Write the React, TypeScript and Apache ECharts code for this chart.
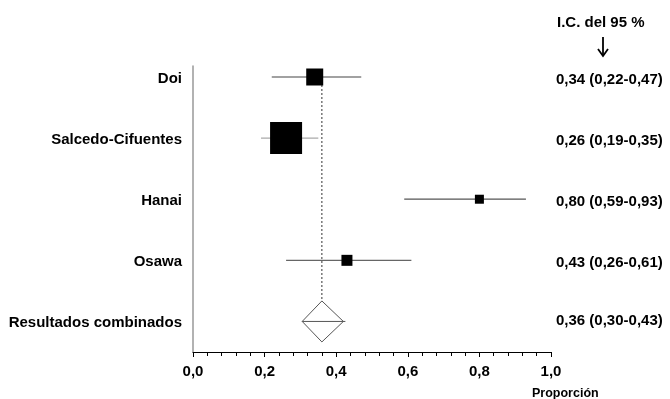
import React, { useEffect, useRef } from "react";
import * as echarts from "echarts";

const studies = ["Doi", "Salcedo-Cifuentes", "Hanai", "Osawa"];
const estimates = [0.34, 0.26, 0.8, 0.43];
const lowers = [0.22, 0.19, 0.59, 0.26];
const uppers = [0.47, 0.35, 0.93, 0.61];
const boxSizes = [17, 32, 9, 11];
const ciColors = ["#444444", "#aaaaaa", "#555555", "#666666"];
const rowPos = [5, 4, 3, 2];

const pooledLabel = "Resultados combinados";
const pooledEst = 0.36;
const pooledLo = 0.305;
const pooledHi = 0.42;
const pooledText = "0,36 (0,30-0,43)";
const pooledRow = 1;

const fmt = (v: number) => v.toFixed(2).replace(".", ",");

const LEFT_FONT = "bold 15px 'Liberation Sans', Arial, sans-serif";
const RIGHT_FONT = "bold 15px 'Liberation Sans', Arial, sans-serif";

export default function App() {
  const ref = useRef<HTMLDivElement>(null);
  useEffect(() => {
    if (!ref.current) return;
    const chart = echarts.init(ref.current, null, { renderer: "svg" });

    const studyData = studies.map((s, i) => [
      estimates[i],
      rowPos[i],
      lowers[i],
      uppers[i],
      boxSizes[i],
      i,
    ]);

    chart.setOption({
      animation: false,
      grid: { left: 193, right: 119, top: 66, bottom: 47 },
      xAxis: {
        type: "value",
        min: 0,
        max: 1,
        interval: 0.2,
        splitLine: { show: false },
        axisLine: { show: true, onZero: false, lineStyle: { color: "#000", width: 1 } },
        axisTick: { show: true, length: 5, lineStyle: { color: "#000" } },
        minorTick: { show: true, splitNumber: 5, length: 4, lineStyle: { color: "#000" } },
        axisLabel: {
          margin: 11,
          color: "#000",
          fontFamily: "'Liberation Sans', Arial, sans-serif",
          fontWeight: "bold",
          fontSize: 15,
          formatter: (v: number) => v.toFixed(1).replace(".", ","),
        },
      },
      yAxis: {
        type: "value",
        min: 0.5,
        max: 5.18,
        splitLine: { show: false },
        axisLine: { show: true, onZero: false, lineStyle: { color: "#999", width: 1.5 } },
        axisTick: { show: false },
        axisLabel: { show: false },
      },
      series: [
        {
          type: "custom",
          z: 1,
          data: [[pooledEst, pooledRow, rowPos[0]]],
          renderItem: (params: any, api: any) => {
            const a = api.coord([api.value(0), api.value(2)]);
            const b = api.coord([api.value(0), api.value(1)]);
            return {
              type: "line",
              shape: { x1: a[0], y1: a[1], x2: b[0], y2: b[1] - 20 },
              style: { stroke: "#333", lineWidth: 1, lineDash: [2, 2] },
            };
          },
        },
        {
          type: "custom",
          z: 2,
          data: studyData,
          renderItem: (params: any, api: any) => {
            const y = api.value(1);
            const c = api.coord([api.value(0), y]);
            const l = api.coord([api.value(2), y]);
            const h = api.coord([api.value(3), y]);
            const size = api.value(4);
            const idx = api.value(5);
            const name = studies[idx];
            const rt = `${fmt(estimates[idx])} (${fmt(lowers[idx])}-${fmt(uppers[idx])})`;
            const right = api.coord([1, y]);
            return {
              type: "group",
              children: [
                {
                  type: "line",
                  shape: { x1: l[0], y1: l[1], x2: h[0], y2: h[1] },
                  style: { stroke: ciColors[idx], lineWidth: 1.2 },
                },
                {
                  type: "rect",
                  shape: { x: c[0] - size / 2, y: c[1] - size / 2, width: size, height: size },
                  style: { fill: "#000" },
                },
                {
                  type: "text",
                  x: 182,
                  y: c[1],
                  style: { text: name, font: LEFT_FONT, fill: "#000", align: "right", verticalAlign: "middle" },
                },
                {
                  type: "text",
                  x: right[0] + 5,
                  y: c[1] + 1,
                  style: { text: rt, font: RIGHT_FONT, fill: "#000", align: "left", verticalAlign: "middle" },
                },
              ],
            };
          },
        },
        {
          type: "custom",
          z: 3,
          data: [[pooledEst, pooledRow, pooledLo, pooledHi]],
          renderItem: (params: any, api: any) => {
            const y = api.value(1);
            const c = api.coord([api.value(0), y]);
            const l = api.coord([api.value(2), y]);
            const h = api.coord([api.value(3), y]);
            const right = api.coord([1, y]);
            const hh = 20.5;
            return {
              type: "group",
              children: [
                {
                  type: "polygon",
                  shape: {
                    points: [
                      [l[0], l[1]],
                      [c[0], c[1] - hh],
                      [h[0], h[1]],
                      [c[0], c[1] + hh],
                    ],
                  },
                  style: { fill: "#fff", stroke: "#555", lineWidth: 1 },
                },
                {
                  type: "line",
                  shape: { x1: l[0], y1: l[1], x2: h[0] + 2, y2: h[1] },
                  style: { stroke: "#555", lineWidth: 1 },
                },
                {
                  type: "text",
                  x: 182,
                  y: c[1],
                  style: { text: pooledLabel, font: LEFT_FONT, fill: "#000", align: "right", verticalAlign: "middle" },
                },
                {
                  type: "text",
                  x: right[0] + 5,
                  y: c[1] - 2,
                  style: { text: pooledText, font: RIGHT_FONT, fill: "#000", align: "left", verticalAlign: "middle" },
                },
              ],
            };
          },
        },
      ],
      graphic: [
        {
          type: "text",
          left: 557,
          top: 14,
          style: { text: "I.C. del 95 %", font: RIGHT_FONT, fill: "#000" },
        },
        {
          type: "line",
          shape: { x1: 603, y1: 37, x2: 603, y2: 56 },
          style: { stroke: "#000", lineWidth: 1.8 },
        },
        {
          type: "polyline",
          shape: { points: [[598, 49], [603, 56], [608, 49]] },
          style: { stroke: "#000", lineWidth: 1.8, fill: null },
        },
        {
          type: "text",
          left: 532,
          top: 386,
          style: { text: "Proporción", font: "bold 12.5px 'Liberation Sans', Arial, sans-serif", fill: "#000" },
        },
      ],
    });
    return () => chart.dispose();
  }, []);
  return <div ref={ref} style={{ width: 670, height: 399, position: "fixed", left: 0, top: 0 }} />;
}
